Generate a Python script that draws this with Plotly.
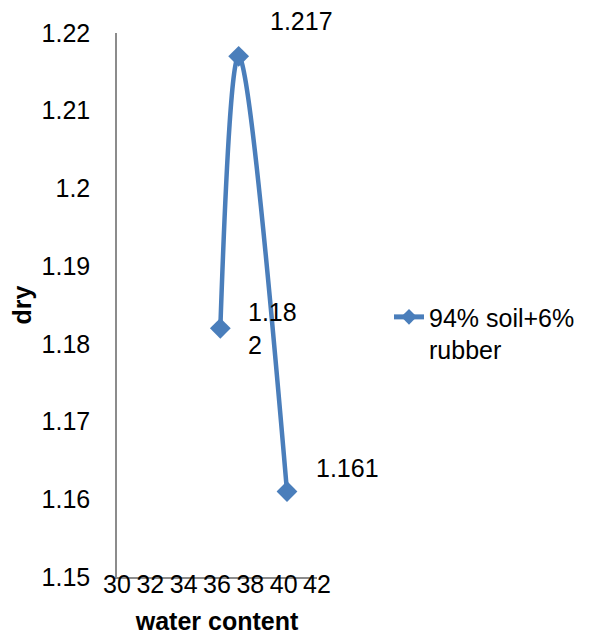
import plotly.graph_objects as go

# data
water_content = [36.2, 37.3, 40.2]
dry_density = [1.182, 1.217, 1.161]
point_labels = ['1.18<br>2', '1.217', '1.161']
series_name = '94% soil+6%<br>rubber'

x_ticks = [30, 32, 34, 36, 38, 40, 42]
y_ticks = [1.15, 1.16, 1.17, 1.18, 1.19, 1.2, 1.21, 1.22]
y_tick_text = ['1.15', '1.16', '1.17', '1.18', '1.19', '1.2', '1.21', '1.22']

LINE_COLOUR = '#4A7EBB'
AXIS_COLOUR = '#8C8C8C'
FONT = 'Liberation Sans, Arial, sans-serif'
SIZE = 25

# offsets of each data label from its point (pixels)
label_shift = [(26, 0), (29, 35), (27, 24)]

fig = go.Figure()
fig.add_trace(go.Scatter(x=water_content,
                         y=dry_density,
                         mode='lines+markers',
                         name=series_name,
                         line=dict(color=LINE_COLOUR, width=4.5, shape='spline', smoothing=1),
                         marker=dict(symbol='diamond', size=16, color=LINE_COLOUR),
                         ))

for xv, yv, txt, (dx, dy) in zip(water_content, dry_density, point_labels, label_shift):
    fig.add_annotation(x=xv, y=yv, text=txt, showarrow=False,
                       xanchor='left', yanchor='middle', align='left',
                       xshift=dx, yshift=dy,
                       font=dict(family=FONT, size=SIZE, color='black'))

# the page body keeps its default 8px margin, so the figure is sized to fit the window
fig.update_layout(
    width=591, height=627,
    margin=dict(l=109, r=282, t=25, b=58),
    paper_bgcolor='white', plot_bgcolor='white',
    font=dict(family=FONT, size=SIZE, color='black'),
    showlegend=True,
    legend=dict(x=1.36, y=0.52, xanchor='left', yanchor='top', valign='top',
                itemsizing='constant',
                font=dict(family=FONT, size=SIZE, color='black'),
                bgcolor='rgba(0,0,0,0)'),
)
fig.update_xaxes(range=[30, 42], tickvals=x_ticks, showgrid=False, zeroline=False,
                 showline=True, linecolor=AXIS_COLOUR, linewidth=1.5,
                 ticks='', tickfont=dict(size=SIZE), ticklabelstandoff=-16,
                 automargin=False,
                 title=dict(text='<b>water content</b>', font=dict(size=SIZE), standoff=20))
fig.update_yaxes(range=[1.15, 1.22], tickvals=y_ticks, ticktext=y_tick_text,
                 showgrid=False, zeroline=False,
                 showline=True, linecolor=AXIS_COLOUR, linewidth=1.5,
                 ticks='outside', ticklen=20, tickcolor='rgba(0,0,0,0)', tickfont=dict(size=SIZE),
                 automargin=False,
                 title=dict(text='<b>dry</b>', font=dict(size=SIZE), standoff=23))

fig.write_html('out.html')
